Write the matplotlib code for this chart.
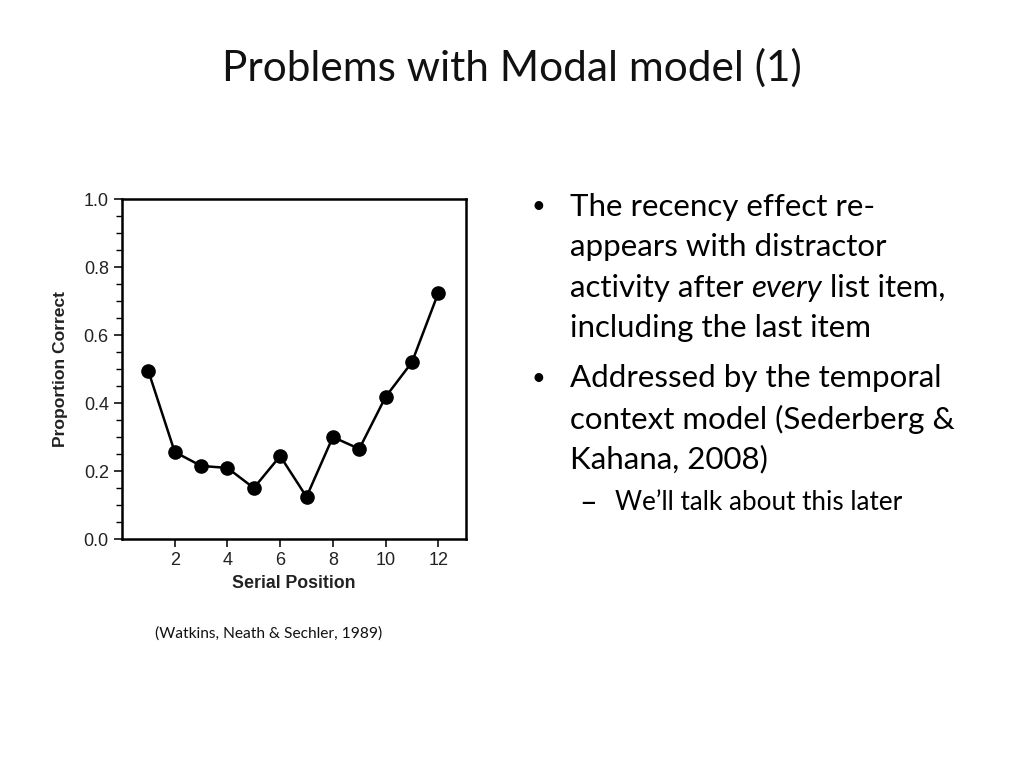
import matplotlib.pyplot as plt
from matplotlib.ticker import MultipleLocator

# data
serial_position = [1, 2, 3, 4, 5, 6, 7, 8, 9, 10, 11, 12]
proportion_correct = [0.494, 0.256, 0.215, 0.209, 0.150, 0.244, 0.124, 0.300, 0.265, 0.418, 0.520, 0.724]
x_ticks = [2, 4, 6, 8, 10, 12]
y_ticks = [0.0, 0.2, 0.4, 0.6, 0.8, 1.0]

TITLE = "Problems with Modal model (1)"
BULLET_1 = ["The recency effect re-", "appears with distractor",
            None, "including the last item"]
BULLET_2 = ["Addressed by the temporal", "context model (Sederberg &", "Kahana, 2008)"]
SUB_BULLET = "We\u2019ll talk about this later"
CAPTION = "(Watkins, Neath & Sechler, 1989)"

TEXT_FONT = ['Lato', 'DejaVu Sans']
CHART_FONT = ['Liberation Sans', 'DejaVu Sans']

fig = plt.figure(figsize=(10.24, 7.68), dpi=100)

# title
fig.text(0.5, 1 - 68 / 768, TITLE, ha='center', va='center', fontsize=30.5,
         family=TEXT_FONT, color='#111111')

# chart
ax = fig.add_axes([122 / 1024, 1 - 539 / 768, 344 / 1024, 340 / 768])
ax.plot(serial_position, proportion_correct, color='black', linewidth=1.8,
        marker='o', markersize=9.5)
ax.set_xlim(0, 13.05)
ax.set_ylim(0, 1.0)
ax.set_xticks(x_ticks)
ax.set_yticks(y_ticks)
ax.yaxis.set_minor_locator(MultipleLocator(0.05))
ax.set_yticklabels([f"{v:.1f}" for v in y_ticks])
ax.tick_params(axis='both', which='major', direction='out', length=6, width=1.3,
               labelsize=13, colors='#222222')
ax.tick_params(axis='y', which='minor', direction='out', length=4, width=1.0)
for lab in ax.get_xticklabels() + ax.get_yticklabels():
    lab.set_family(CHART_FONT)
for sp in ax.spines.values():
    sp.set_linewidth(1.8)
ax.set_xlabel("Serial Position", fontsize=12.8, fontweight='bold', family=CHART_FONT,
              labelpad=4, color='#222222')
ax.set_ylabel("Proportion Correct", fontsize=12.6, fontweight='bold', family=CHART_FONT,
              labelpad=11, color='#222222')

# caption
fig.text(269 / 1024, 1 - 634 / 768, CAPTION, ha='center', va='center', fontsize=11.2,
         family=TEXT_FONT, color='#111111')

# bullets
fs = 22.5
text_x = 570 / 1024
bullet_x = 538 / 1024
line_y = [207, 247, 288, 328]
fig.text(bullet_x, 1 - line_y[0] / 768, "\u2022", ha='center', va='center', fontsize=17,
         family=TEXT_FONT)
for y, line in zip(line_y, BULLET_1):
    if line is None:
        continue
    fig.text(text_x, 1 - y / 768, line, ha='left', va='center', fontsize=fs,
             family=TEXT_FONT)
# mixed-style line
t1 = fig.text(text_x, 1 - line_y[2] / 768, "activity after ", ha='left', va='center',
              fontsize=fs, family=TEXT_FONT)
fig.canvas.draw()
r = fig.canvas.get_renderer()
bb = t1.get_window_extent(r)
t2 = fig.text(bb.x1 / 1024, 1 - line_y[2] / 768, "every", ha='left', va='center',
              fontsize=fs, family=TEXT_FONT, style='italic')
bb2 = t2.get_window_extent(r)
fig.text(bb2.x1 / 1024, 1 - line_y[2] / 768, " list item,", ha='left', va='center',
         fontsize=fs, family=TEXT_FONT)

line_y2 = [378, 419, 459]
fig.text(bullet_x, 1 - line_y2[0] / 768, "\u2022", ha='center', va='center', fontsize=17,
         family=TEXT_FONT)
for y, line in zip(line_y2, BULLET_2):
    fig.text(text_x, 1 - y / 768, line, ha='left', va='center', fontsize=fs,
             family=TEXT_FONT)

fig.text(588 / 1024, 1 - 503 / 768, "\u2013", ha='center', va='center', fontsize=22,
         family=TEXT_FONT)
fig.text(615 / 1024, 1 - 503 / 768, SUB_BULLET, ha='left', va='center', fontsize=18.8,
         family=TEXT_FONT)

fig.savefig("out.png", dpi=100)
